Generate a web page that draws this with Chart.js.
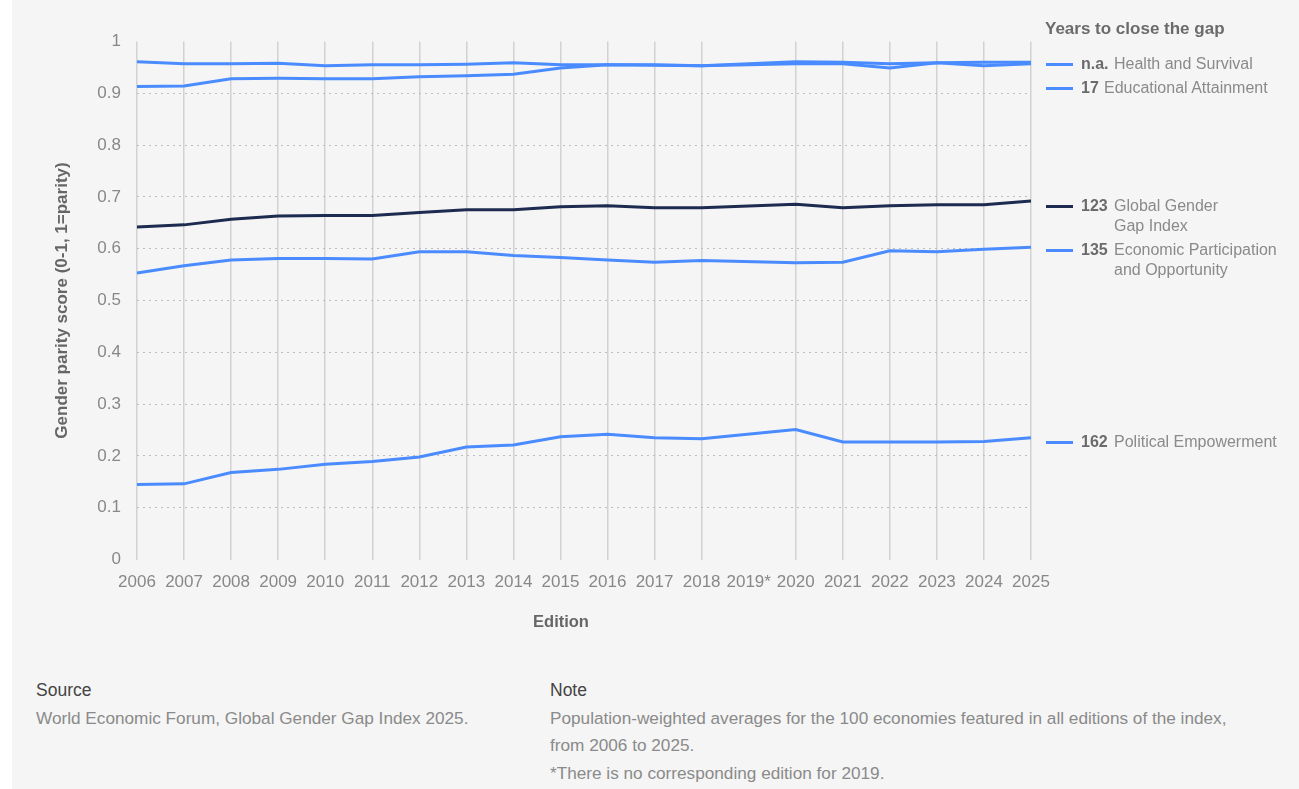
<!DOCTYPE html>
<html>
<head>
<meta charset="utf-8">
<script src="https://cdn.jsdelivr.net/npm/chart.js@4/dist/chart.umd.min.js"></script>
<style>
  body { margin: 0; background: #ffffff; font-family: "Liberation Sans", Arial, sans-serif; }
  #panel { position: absolute; left: 12px; top: 0; width: 1287px; height: 789px; background: #f5f5f5; }
  #wrap { position: absolute; left: 0; top: 0; width: 1299px; height: 631px; }
  .legend-title { position: absolute; left: 1045px; top: 19px; font-size: 17px; font-weight: bold; color: #6b6b6b; }
  .item { position: absolute; left: 1046px; font-size: 16px; color: #8a8a8a; line-height: 20px; }
  .item .sw { position: absolute; left: 0; top: 9px; width: 27px; height: 3px; }
  .item .num { position: absolute; left: 35px; top: 0; font-weight: bold; color: #6b6b6b; }
  .item .lab { position: absolute; top: 0; white-space: nowrap; }
  .xtitle { position: absolute; left: 461px; width: 200px; top: 612px; text-align: center; font-size: 16.5px; font-weight: bold; color: #666; }
  .foot { position: absolute; line-height: 27.5px; }
  .foot .hd { color: #444; font-size: 17.5px; }
  .foot .tx { color: #8a8a8a; font-size: 17.2px; }
</style>
</head>
<body>
<div id="panel"></div>
<div id="wrap"><canvas id="genderGapChart"></canvas></div>

<div class="legend-title">Years to close the gap</div>
<div class="item" style="top:54px"><span class="sw" style="background:#4a8cff"></span><span class="num">n.a.</span><span class="lab" style="left:68px">Health and Survival</span></div>
<div class="item" style="top:78px"><span class="sw" style="background:#4a8cff"></span><span class="num">17</span><span class="lab" style="left:58px">Educational Attainment</span></div>
<div class="item" style="top:196px"><span class="sw" style="background:#1c2b4f"></span><span class="num">123</span><span class="lab" style="left:68px">Global Gender<br>Gap Index</span></div>
<div class="item" style="top:240px"><span class="sw" style="background:#4a8cff"></span><span class="num">135</span><span class="lab" style="left:68px">Economic Participation<br>and Opportunity</span></div>
<div class="item" style="top:432px"><span class="sw" style="background:#4a8cff"></span><span class="num">162</span><span class="lab" style="left:68px">Political Empowerment</span></div>

<div class="xtitle">Edition</div>

<div class="foot" style="left:36px; top:677px"><div class="hd">Source</div><div class="tx">World Economic Forum, Global Gender Gap Index 2025.</div></div>
<div class="foot" style="left:550px; top:677px"><div class="hd">Note</div><div class="tx">Population-weighted averages for the 100 economies featured in all editions of the index,<br>from 2006 to 2025.<br>*There is no corresponding edition for 2019.</div></div>

<script>
  // Editions (2019 has no edition, kept as an empty slot)
  const editions = ['2006', '2007', '2008', '2009', '2010', '2011', '2012', '2013', '2014', '2015',
    '2016', '2017', '2018', '2019*', '2020', '2021', '2022', '2023', '2024', '2025'];
  const yTicks = [0, 0.1, 0.2, 0.3, 0.4, 0.5, 0.6, 0.7, 0.8, 0.9, 1];

  const healthSurvival = [0.961, 0.957, 0.957, 0.958, 0.953, 0.955, 0.955, 0.956, 0.959, 0.955,
    0.955, 0.955, 0.953, null, 0.961, 0.960, 0.957, 0.959, 0.953, 0.957];
  const educationalAttainment = [0.913, 0.914, 0.928, 0.929, 0.928, 0.928, 0.932, 0.934, 0.937, 0.949,
    0.955, 0.954, 0.953, null, 0.957, 0.957, 0.949, 0.959, 0.960, 0.960];
  const globalIndex = [0.642, 0.646, 0.657, 0.663, 0.664, 0.664, 0.670, 0.675, 0.675, 0.681,
    0.683, 0.679, 0.679, null, 0.686, 0.679, 0.683, 0.685, 0.685, 0.692];
  const economicParticipation = [0.553, 0.567, 0.578, 0.581, 0.581, 0.580, 0.594, 0.594, 0.587, 0.583,
    0.578, 0.574, 0.577, null, 0.573, 0.574, 0.596, 0.594, 0.599, 0.603];
  const politicalEmpowerment = [0.145, 0.146, 0.168, 0.174, 0.184, 0.189, 0.198, 0.217, 0.221, 0.237,
    0.242, 0.235, 0.233, null, 0.251, 0.227, 0.227, 0.227, 0.228, 0.235];

  const blue = '#4a8cff';
  const navy = '#1c2b4f';
  const font = { family: '"Liberation Sans", Arial, sans-serif', size: 17 };

  const line = (label, data, color) => ({
    label, data,
    borderColor: color,
    borderWidth: 3,
    pointRadius: 0,
    tension: 0,
    spanGaps: true,
    fill: false,
  });

  const ctx = document.getElementById('genderGapChart');
  new Chart(ctx, {
    type: 'line',
    data: {
      labels: editions,
      datasets: [
        line('Political Empowerment', politicalEmpowerment, blue),
        line('Economic Participation and Opportunity', economicParticipation, blue),
        line('Global Gender Gap Index', globalIndex, navy),
        line('Health and Survival', healthSurvival, blue),
        line('Educational Attainment', educationalAttainment, blue),
      ],
    },
    options: {
      responsive: true,
      maintainAspectRatio: false,
      animation: false,
      layout: { padding: { top: 41.5, right: 268, left: 0, bottom: 0 } },
      plugins: { legend: { display: false }, tooltip: { enabled: false } },
      scales: {
        x: {
          border: { display: false },
          grid: {
            drawTicks: false,
            lineWidth: 1.5,
            color: (c) => (c.index === 13 ? 'rgba(0,0,0,0)' : '#d2d2d2'),
          },
          ticks: { color: '#888', font, padding: 13, maxRotation: 0, autoSkip: false },
          afterFit: (s) => { s.height = 71.5; },
        },
        y: {
          min: 0,
          max: 1,
          border: { display: false, dash: [2, 4] },
          afterBuildTicks: (s) => { s.ticks = yTicks.map((v) => ({ value: v })); },
          grid: {
            drawTicks: false,
            lineWidth: 1,
            color: (c) => (c.tick && (c.tick.value === 0 || c.tick.value === 1) ? 'rgba(0,0,0,0)' : '#bdbdbd'),
          },
          ticks: { color: '#888', font, padding: 16, callback: (v) => String(v) },
          title: { display: true, text: 'Gender parity score (0-1, 1=parity)', color: '#666', font: { ...font, weight: 'bold' }, padding: { top: 52, bottom: 0 } },
          afterFit: (s) => { s.width = 137; },
        },
      },
    },
  });
</script>
</body>
</html>
